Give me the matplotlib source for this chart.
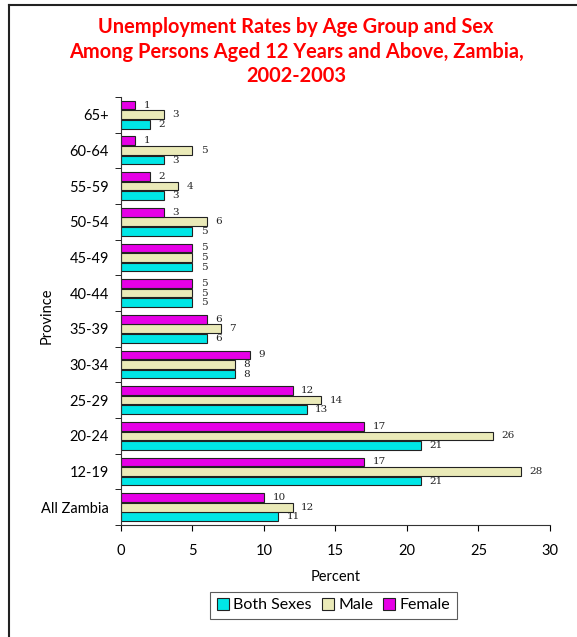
import matplotlib
matplotlib.use("Agg")
import matplotlib.pyplot as plt
import numpy as np
from matplotlib.lines import Line2D

categories = ["All Zambia", "12-19", "20-24", "25-29", "30-34", "35-39",
              "40-44", "45-49", "50-54", "55-59", "60-64", "65+"]
both_sexes = [11, 21, 21, 13, 8, 6, 5, 5, 5, 3, 3, 2]
male = [12, 28, 26, 14, 8, 7, 5, 5, 6, 4, 5, 3]
female = [10, 17, 17, 12, 9, 6, 5, 5, 3, 2, 1, 1]
series_names = ["Both Sexes", "Male", "Female"]
xticks = [0, 5, 10, 15, 20, 25, 30]

colors = ["#00E6E6", "#EAEAB8", "#E600E6"]
font = "Lato"

fig = plt.figure(figsize=(5.77, 6.37), dpi=100)
ax = fig.add_axes([0.2097, 0.1758, 0.7435, 0.672])

y = np.arange(len(categories))
h = 0.27
offsets = [-h, 0, h]
for vals, off, col, name in zip([both_sexes, male, female], offsets, colors, series_names):
    ax.barh(y + off, vals, height=h * 0.9, color=col, edgecolor="#222222",
            linewidth=0.8, label=name)
    for yy, v in zip(y + off, vals):
        ax.annotate(str(v), (v, yy), xytext=(6, 0), textcoords="offset points",
                    va="center", ha="left", fontsize=7.5, family="DejaVu Serif",
                    color="#222222")

ax.set_xlim(0, 30)
ax.set_ylim(-0.5, len(categories) - 0.5)
ax.set_xticks(xticks)
ax.set_xticklabels([str(t) for t in xticks], family=font, fontsize=10.5)
ax.set_yticks(y)
ax.set_yticklabels(categories, family=font, fontsize=10.5)
ax.tick_params(axis="y", length=0, pad=8.6)
ax.set_yticks(np.arange(-0.5, len(categories)), minor=True)
ax.tick_params(axis="y", which="minor", length=4, direction="out")
ax.tick_params(axis="x", length=4, direction="out", pad=10)
for s in ["top", "right"]:
    ax.spines[s].set_visible(False)
ax.spines["left"].set_color("#333333")
ax.spines["bottom"].set_color("#333333")

ax.set_xlabel("Percent", family=font, fontsize=10.5, labelpad=8)
ax.set_ylabel("Province", family=font, fontsize=10.5)
ax.yaxis.set_label_coords(-0.158, 0.49)

fig.text(0.513, 0.973, "Unemployment Rates by Age Group and Sex\n"
         "Among Persons Aged 12 Years and Above, Zambia,\n2002-2003",
         ha="center", va="top", color="#FF0000", fontsize=14.4,
         fontweight="bold", family=font, linespacing=1.29)

handles = [plt.Rectangle((0, 0), 1, 1, facecolor=c, edgecolor="#222222", linewidth=0.8)
           for c in colors]
leg = fig.legend(handles, series_names, loc="center", bbox_to_anchor=(0.578, 0.05),
                 ncol=3, frameon=True, fancybox=False, edgecolor="#333333",
                 prop={"family": font, "size": 11.5}, handlelength=0.75,
                 handleheight=0.75, handletextpad=0.3, columnspacing=0.6,
                 borderpad=0.4)
leg.get_frame().set_linewidth(0.8)

fig.add_artist(Line2D([9 / 577, 9 / 577], [0, 1 - 5 / 637], transform=fig.transFigure,
                      color="#222222", linewidth=1.5))
fig.add_artist(Line2D([9 / 577, 1], [1 - 5 / 637, 1 - 5 / 637], transform=fig.transFigure,
                      color="#222222", linewidth=1.5))

fig.savefig("out.png", dpi=100)
